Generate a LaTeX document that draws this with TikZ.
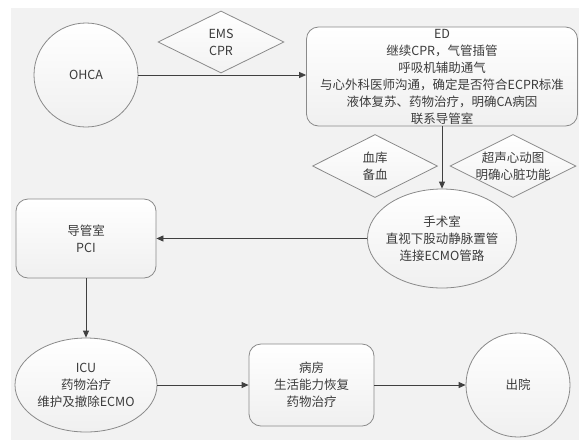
\documentclass[tikz,border=0pt]{standalone}
\usepackage{fontspec}
\setmainfont{Noto Sans CJK SC}
\usetikzlibrary{shapes.geometric,arrows.meta,positioning}
\definecolor{bggray}{HTML}{F2F2F2}
\definecolor{edgegray}{HTML}{8A8A8A}
\definecolor{linegray}{HTML}{404040}
\definecolor{txtgray}{HTML}{3C3C3C}
\tikzset{
  base/.style={draw=edgegray, line width=0.8pt, top color=white, bottom color=black!6,
    text=txtgray, align=center, inner sep=1pt, font=\fontsize{12.5}{17}\selectfont},
  circ/.style={base, circle, minimum size=104pt},
  oval/.style={base, ellipse, inner sep=-6pt},
  rbox/.style={base, rectangle, rounded corners=12pt},
  dia/.style={base, diamond, aspect=2, inner sep=-6pt, top color=white, bottom color=bggray},
  flow/.style={draw=linegray, line width=0.8pt, -{Triangle[length=7pt,width=6pt]}},
}
\begin{document}
\begin{tikzpicture}[x=1pt,y=-1pt]
  \useasboundingbox (0,0) rectangle (585,440);
  \fill[bggray] (11,8) rectangle (579,440);

  % first row
  \node[circ] (ohca) at (86,75) {OHCA};
  \node[dia, minimum width=126pt, minimum height=62pt] (ems) at (221,42) {EMS\\CPR};
  \node[rbox, minimum width=271pt, minimum height=99pt] (ed) at (442,76.5)
    {ED\\继续CPR，气管插管\\呼吸机辅助通气\\与心外科医师沟通，确定是否符合ECPR标准\\液体复苏、药物治疗，明确CA病因\\联系导管室};

  % second row
  \node[dia, minimum width=125pt, minimum height=63pt] (blood) at (375,166) {血库\\备血};
  \node[dia, minimum width=126pt, minimum height=63pt] (echo) at (513,166) {超声心动图\\明确心脏功能};
  \node[oval, minimum width=149pt, minimum height=99pt] (or) at (442,238.5)
    {手术室\\直视下股动静脉置管\\连接ECMO管路};
  \node[rbox, minimum width=140pt, minimum height=79pt] (cath) at (86,238.5) {导管室\\PCI};

  % third row
  \node[oval, minimum width=142pt, minimum height=94pt] (icu) at (86,385)
    {ICU\\药物治疗\\维护及撤除ECMO};
  \node[rbox, minimum width=125pt, minimum height=82pt] (ward) at (311.5,385)
    {病房\\生活能力恢复\\药物治疗};
  \node[circ] (home) at (518,385) {出院};

  % connectors
  \draw[flow] (ohca) -- (ohca.east -| ed.west);
  \draw[flow] (ed) -- (or);
  \draw[flow] (or) -- (cath);
  \draw[flow] (cath) -- (icu);
  \draw[flow] (icu) -- (ward);
  \draw[flow] (ward) -- (home);
\end{tikzpicture}
\end{document}
